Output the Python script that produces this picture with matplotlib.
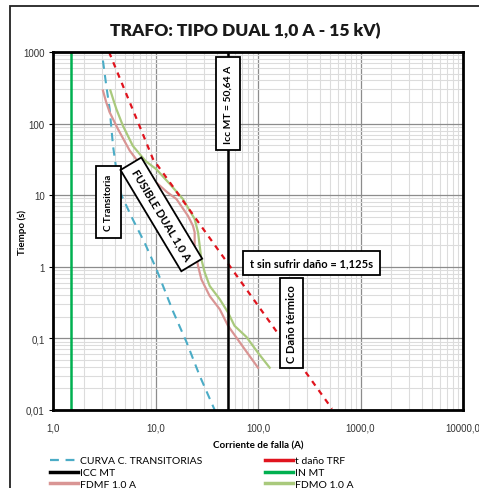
import matplotlib.pyplot as plt
from matplotlib.lines import Line2D
from matplotlib.patches import Rectangle
from matplotlib.ticker import FixedLocator, LogLocator, NullFormatter

plt.rcParams['font.family'] = ['Lato', 'DejaVu Sans']

# curva C. transitorias (azul)
trans_I = [3.07, 3.3, 3.57, 3.85, 4.2, 4.65, 6.0, 7.8, 10.2, 14.8, 20.0, 27.0, 37.8]
trans_t = [760, 350, 160, 49, 20, 10, 4.6, 2.2, 0.93, 0.24, 0.09, 0.03, 0.01]

# t daño TRF (rojo)
dano_I = [3.52, 5.0, 7.0, 9.45, 15, 20, 30, 40, 50.64, 80, 163, 300, 527]
dano_t = [1000, 295, 92, 32, 12.8, 7.2, 3.2, 1.8, 1.125, 0.45, 0.108, 0.032, 0.0104]

# FDMF 1.0 A
fdmf_I = [3.07, 3.3, 3.57, 4.3, 5.6, 7.5, 10.2, 13, 16, 20.7, 23.2, 24.1, 24.1, 26, 28, 33.8, 42.3, 51, 71.5, 100]
fdmf_t = [290, 200, 144, 84, 42, 24, 15, 11, 8.85, 5.17, 3.74, 3.03, 1.97, 1.03, 0.67, 0.39, 0.256, 0.15, 0.076, 0.039]

# FDMO 1.0 A
fdmo_I = [3.63, 3.9, 4.15, 4.8, 6.0, 8, 10.2, 14, 18.5, 24.1, 26, 28, 30.2, 33.8, 42.3, 51, 59, 77, 100, 130]
fdmo_t = [290, 210, 160, 94, 49, 30, 23, 14, 8.85, 4.65, 3.03, 1.28, 0.835, 0.54, 0.353, 0.23, 0.15, 0.105, 0.063, 0.039]

icc_mt = 50.64
in_mt = 1.5

x_ticks = [1, 10, 100, 1000, 10000]
x_labels = ['1,0', '10,0', '100,0', '1000,0', '10000,0']
y_ticks = [0.01, 0.1, 1, 10, 100, 1000]
y_labels = ['0,01', '0,1', '1', '10', '100', '1000']

c_blue = '#4BACC6'
c_red = '#E0141E'
c_green = '#00B050'
c_pink = '#D99594'
c_olive = '#A9C97C'

fig = plt.figure(figsize=(4.79, 4.89), dpi=100)
ax = fig.add_axes([53 / 479, 1 - 411 / 489, 410 / 479, 358 / 489])

ax.plot(trans_I, trans_t, color=c_blue, lw=1.5, dashes=(4, 3))
ax.plot(fdmf_I, fdmf_t, color=c_pink, lw=1.6)
ax.plot(fdmo_I, fdmo_t, color=c_olive, lw=1.6)
ax.plot(dano_I, dano_t, color=c_red, lw=1.6, dashes=(2.5, 2.5))
ax.axvline(icc_mt, color='black', lw=1.8)
ax.axvline(in_mt, color=c_green, lw=1.8)

ax.set_xscale('log')
ax.set_yscale('log')
ax.set_xlim(1, 10000)
ax.set_ylim(0.01, 1000)
ax.xaxis.set_major_locator(FixedLocator(x_ticks))
ax.set_xticklabels(x_labels)
ax.yaxis.set_major_locator(FixedLocator(y_ticks))
ax.set_yticklabels(y_labels)
ax.xaxis.set_minor_locator(LogLocator(base=10, subs=range(2, 10)))
ax.yaxis.set_minor_locator(LogLocator(base=10, subs=range(2, 10)))
ax.xaxis.set_minor_formatter(NullFormatter())
ax.yaxis.set_minor_formatter(NullFormatter())
ax.grid(True, which='major', color='#8C8C8C', lw=0.9)
ax.grid(True, which='minor', color='#DCDCDC', lw=0.8)
ax.set_axisbelow(True)
for s in ax.spines.values():
    s.set_linewidth(2)
ax.tick_params(axis='x', which='both', length=0, pad=9, labelsize=7, labelcolor='#333333')
ax.tick_params(axis='y', which='major', length=3, pad=3, labelsize=7, labelcolor='#333333')
ax.tick_params(axis='y', which='minor', length=0)
for lab in ax.get_xticklabels() + ax.get_yticklabels():
    lab.set_fontfamily('Liberation Sans')

ax.set_xlabel('Corriente de falla (A)', fontsize=7, fontweight='bold', labelpad=6)
ax.set_ylabel('Tiempo (s)', fontsize=7, fontweight='bold')
ax.yaxis.set_label_coords(-0.063, 0.5)
fig.text(245 / 479, 1 - 31 / 489, 'TRAFO: TIPO DUAL 1,0 A - 15 kV)', ha='center', va='center',
         fontsize=12.5, fontweight='heavy', color='#1A1A1A')

def box(p):
    return dict(boxstyle='square,pad=%s' % p, fc='white', ec='black', lw=1.3)

ax.text(icc_mt, 190, 'Icc MT = 50,64 A', rotation=90, ha='center', va='center',
        fontsize=7.4, fontweight='bold', bbox=box(0.75), rotation_mode='anchor')
ax.text(3.5, 8.0, 'C Transitoria', rotation=90, ha='center', va='center',
        fontsize=7, fontweight='bold', bbox=box(0.8), rotation_mode='anchor')
ax.text(11.4, 5.4, 'FUSIBLE DUAL 1,0 A', rotation=-59, ha='center', va='center',
        fontsize=8, fontweight='bold', bbox=box(0.6), rotation_mode='anchor')
ax.text(334, 1.13, 't sin sufrir daño = 1,125s', ha='center', va='center',
        fontsize=8, fontweight='bold', bbox=box(0.6))
ax.text(213, 0.163, 'C Daño térmico', rotation=90, ha='center', va='center',
        fontsize=8, fontweight='bold', bbox=box(0.55), rotation_mode='anchor')

# marco exterior del gráfico
fig.patches.append(Rectangle((10 / 479, -0.1), 1.2, 1 - 7 / 489 + 0.1, transform=fig.transFigure,
                             fill=False, ec='#222222', lw=1.3))

h1 = [Line2D([], [], color=c_blue, lw=1.6, dashes=(4, 3)),
      Line2D([], [], color='black', lw=2.5),
      Line2D([], [], color=c_pink, lw=2.5)]
l1 = ['CURVA C. TRANSITORIAS', 'ICC MT', 'FDMF 1.0 A']
h2 = [Line2D([], [], color=c_red, lw=2.5),
      Line2D([], [], color=c_green, lw=2.5),
      Line2D([], [], color=c_olive, lw=2.5)]
l2 = ['t daño TRF', 'IN MT', 'FDMO 1.0 A']
kw = dict(loc='upper left', frameon=False, fontsize=7.5, handlelength=2.7, handletextpad=0.2,
          labelspacing=0.25, borderpad=0, borderaxespad=0)
fig.legend(h1, l1, bbox_to_anchor=(50 / 479, 1 - 457 / 489), **kw)
fig.legend(h2, l2, bbox_to_anchor=(265 / 479, 1 - 457 / 489), **kw)

fig.savefig('out.png', dpi=100)
